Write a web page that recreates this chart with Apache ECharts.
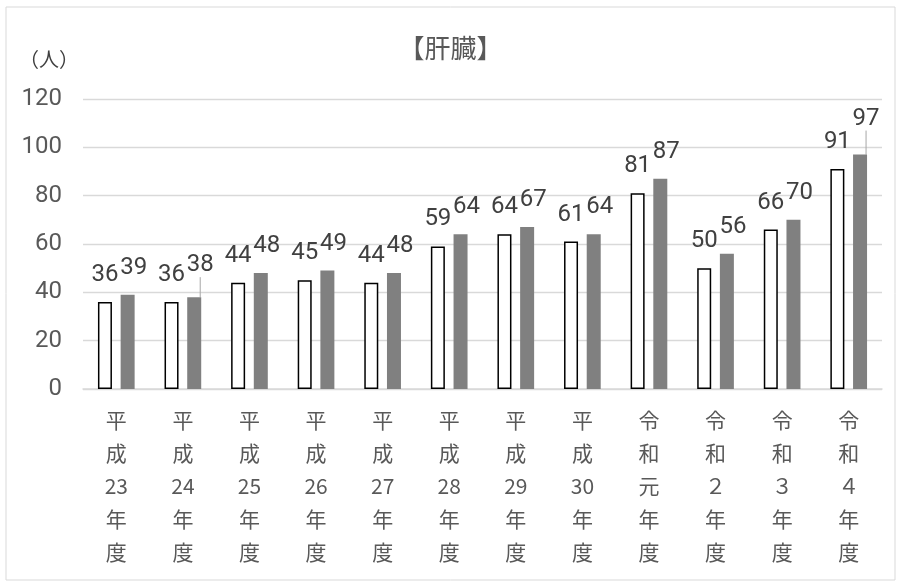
<!DOCTYPE html>
<html><head><meta charset="utf-8">
<script src="https://cdn.jsdelivr.net/npm/echarts@6/dist/echarts.min.js"></script>
<style>html,body{margin:0;padding:0;background:#fff}#c{width:901px;height:584px}</style>
</head><body><div id="c"></div>
<script>
const categories = ['平\n成\n23\n年\n度','平\n成\n24\n年\n度','平\n成\n25\n年\n度','平\n成\n26\n年\n度','平\n成\n27\n年\n度','平\n成\n28\n年\n度','平\n成\n29\n年\n度','平\n成\n30\n年\n度','令\n和\n元\n年\n度','令\n和\n２\n年\n度','令\n和\n３\n年\n度','令\n和\n４\n年\n度'];
const seriesA = [36,36,44,45,44,59,64,61,81,50,66,91];
const seriesB = [39,38,48,49,48,64,67,64,87,56,70,97];
const leaderIdx = [1,11];
const yTicks = {min:0, max:120, interval:20};
const numFont = "'Roboto','Noto Sans CJK JP',sans-serif";
const cjkFont = "'Noto Sans CJK JP',sans-serif";
const chart = echarts.init(document.getElementById('c'));
chart.setOption({
  animation:false,
  backgroundColor:'#fff',
  graphic:[{type:'rect',shape:{x:6,y:7,width:889,height:573},style:{fill:'none',stroke:'#d9d9d9',lineWidth:1}}],
  title:{text:'【肝臓】',left:'center',top:30,textStyle:{fontFamily:cjkFont,fontSize:26,fontWeight:'normal',color:'#595959'}},
  grid:{left:83,right:19,top:99,bottom:195},
  xAxis:{type:'category',data:categories,axisTick:{show:false},
    axisLine:{lineStyle:{color:'#d9d9d9',width:1.5}},
    axisLabel:{interval:0,fontFamily:cjkFont,fontSize:21,color:'#595959',lineHeight:33,margin:15}},
  yAxis:{type:'value',min:yTicks.min,max:yTicks.max,interval:yTicks.interval,
    name:'（人）',nameLocation:'end',nameGap:30,
    nameTextStyle:{fontFamily:cjkFont,fontSize:20,color:'#404040',align:'right',padding:[0,4,0,0]},
    axisLine:{show:false},axisTick:{show:false},
    splitLine:{lineStyle:{color:'#d9d9d9',width:1.3}},
    axisLabel:{fontFamily:numFont,fontSize:24,color:'#595959',margin:21}},
  series:[
    {type:'bar',data:seriesA,barWidth:14,barGap:'62%',
      itemStyle:{color:'#ffffff',borderColor:'#000',borderWidth:1.5},
      label:{show:true,position:'top',distance:15,fontFamily:numFont,fontSize:24,color:'#404040'}},
    {type:'bar',data:seriesB.map((v,i)=>({value:v,labelLine:{show:leaderIdx.includes(i)}})),barWidth:14,
      itemStyle:{color:'#808080'},
      label:{show:true,position:'top',distance:15,fontFamily:numFont,fontSize:24,color:'#404040'},
      labelLine:{lineStyle:{color:'#a6a6a6',width:1}},
      labelLayout:function(p){ if(p.dataIndex===1) return {dx:6,dy:-5}; if(p.dataIndex===11) return {dx:6,dy:-9}; return {dx:6}; }}
  ]
});
</script></body></html>
